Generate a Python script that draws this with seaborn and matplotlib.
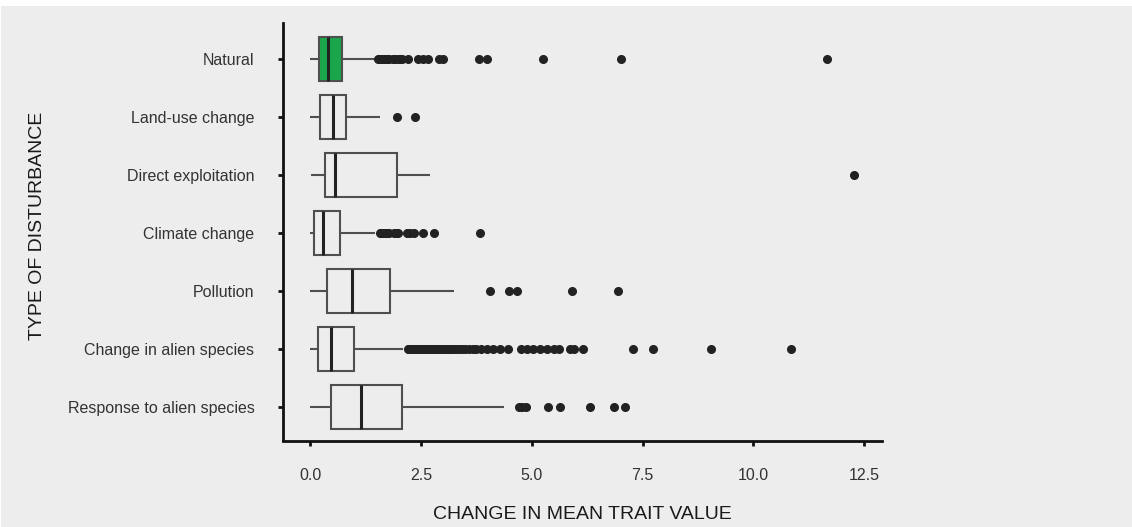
import matplotlib
matplotlib.use('Agg')
import matplotlib.pyplot as plt
from matplotlib.patches import Rectangle
import seaborn as sns
import pandas as pd

categories = ['Natural', 'Land-use change', 'Direct exploitation', 'Climate change',
              'Pollution', 'Change in alien species', 'Response to alien species']

# five-number summaries
whisker_lo = [0.00, 0.00, 0.02, 0.00, 0.00, 0.00, 0.00]
q1 = [0.19, 0.23, 0.33, 0.08, 0.37, 0.18, 0.47]
median = [0.41, 0.52, 0.56, 0.29, 0.93, 0.47, 1.14]
q3 = [0.72, 0.80, 1.96, 0.67, 1.79, 0.98, 2.08]
whisker_hi = [1.50, 1.57, 2.69, 1.45, 3.24, 2.10, 4.38]

# outliers per category
out_natural = [1.53, 1.56, 1.59, 1.62, 1.66, 1.70, 1.74, 1.78, 1.87, 1.92, 1.97, 2.02,
               2.06, 2.21, 2.42, 2.54, 2.65, 2.91, 3.00, 3.81, 3.98, 5.25, 7.00, 11.66]
out_landuse = [1.96, 2.37]
out_direct = [12.27]
out_climate = [1.57, 1.60, 1.63, 1.66, 1.70, 1.74, 1.78, 1.88, 1.93, 1.98, 2.18, 2.26,
               2.34, 2.55, 2.80, 3.83]
out_pollution = [4.06, 4.48, 4.67, 5.91, 6.95]
out_alien = [2.20, 2.23, 2.26, 2.29, 2.32, 2.35, 2.38, 2.41, 2.44, 2.47, 2.50, 2.54,
             2.58, 2.62, 2.66, 2.70, 2.74, 2.78, 2.82, 2.86, 2.90, 2.95, 3.00, 3.05,
             3.10, 3.16, 3.22, 3.28, 3.35, 3.42, 3.50, 3.58, 3.66, 3.75,
             3.85, 3.99, 4.13, 4.28, 4.46, 4.75, 4.88, 5.03, 5.19, 5.34, 5.49, 5.62,
             5.86, 5.95, 6.15, 7.29, 7.74, 9.04, 10.84]
out_response = [4.70, 4.78, 4.86, 5.36, 5.64, 6.32, 6.86, 7.10]
outliers = [out_natural, out_landuse, out_direct, out_climate,
            out_pollution, out_alien, out_response]

bg = '#ededed'
green = '#1ba64b'

# long table for seaborn: repeat quartile values so the computed box matches the summary
rows = []
for i, cat in enumerate(categories):
    k = len(outliers[i]) + 3
    vals = [whisker_lo[i]] + [q1[i]] * k + [median[i]] * k + [q3[i]] * k + [whisker_hi[i]] + outliers[i]
    rows += [(cat, v) for v in vals]
df = pd.DataFrame(rows, columns=['disturbance', 'change'])

sns.set_theme(style='ticks')
plt.rcParams['font.family'] = ['Liberation Sans', 'DejaVu Sans']

fig = plt.figure(figsize=(11.32, 5.27), dpi=100, facecolor='white')
fig.patches.append(Rectangle((1 / 1132, 0), 1, 1 - 6 / 527, transform=fig.transFigure,
                             facecolor=bg, edgecolor='none', zorder=-1))
ax = fig.add_axes([283 / 1132, 1 - 440.5 / 527, 599 / 1132, 417.2 / 527])
ax.set_facecolor(bg)

palette = {c: bg for c in categories}
palette['Natural'] = green

sns.boxplot(
    data=df, x='change', y='disturbance', order=categories,
    hue='disturbance', palette=palette, legend=False, saturation=1,
    width=0.76, linewidth=1.5, linecolor='#4f4f4f', showcaps=False,
    medianprops={'color': '#222222', 'linewidth': 2.2},
    flierprops={'marker': 'o', 'markerfacecolor': '#222222',
                'markeredgecolor': '#222222', 'markersize': 5.5},
    ax=ax
)

ax.set_xlim(-0.616, 12.9)
ax.set_ylim(6.584, -0.617)
ax.set_xticks([0, 2.5, 5, 7.5, 10, 12.5])
ax.set_xticklabels(['0.0', '2.5', '5.0', '7.5', '10.0', '12.5'])

sns.despine(ax=ax)
for s in ['left', 'bottom']:
    ax.spines[s].set_linewidth(2)
    ax.spines[s].set_color('#111111')
ax.tick_params(axis='x', length=3.6, width=2, color='#111111', pad=16,
               labelsize=11.5, labelcolor='#333333')
ax.tick_params(axis='y', length=3.6, width=2, color='#111111', pad=17,
               labelsize=11.5, labelcolor='#333333')

ax.set_xlabel('CHANGE IN MEAN TRAIT VALUE', fontsize=14, color='#1a1a1a')
ax.set_ylabel('TYPE OF DISTURBANCE', fontsize=14, color='#1a1a1a')
ax.xaxis.set_label_coords(0.5, -0.157)
ax.yaxis.set_label_coords(-0.396, 0.514)

fig.savefig('out.png', dpi=100, facecolor=fig.get_facecolor())
